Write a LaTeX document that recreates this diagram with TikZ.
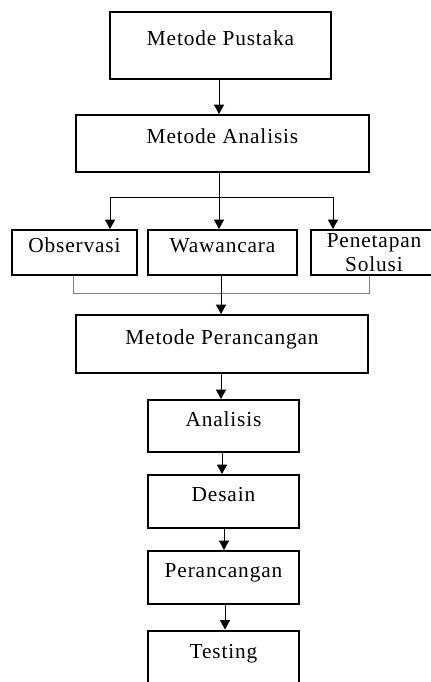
\documentclass[tikz,border=0pt]{standalone}
\usepackage{fontspec}
\setmainfont[LetterSpace=4]{Liberation Serif}
\usetikzlibrary{arrows.meta}
\tikzset{
  procbox/.style={draw, line width=1.5pt, align=center, inner sep=0pt, font=\fontsize{16}{19}\selectfont, text height=11pt, text depth=11pt},
  twoline/.style={draw, line width=1.5pt, align=center, inner sep=0pt, font=\fontsize{16}{17.5}\selectfont},
  flow/.style={line width=0.75pt, -{Triangle[length=7pt,width=7.5pt]}},
  joinline/.style={line width=0.75pt, draw=gray}
}

\begin{document}
\begin{tikzpicture}[x=0.75pt,y=0.75pt,yscale=-1,xscale=1]
\useasboundingbox (0,0) rectangle (430,682);

% Text Node
\node [procbox, minimum width=165.75pt, minimum height=50.25pt] (pustaka) at (220.5,45.5) {Metode Pustaka};
% Text Node
\node [procbox, minimum width=219.75pt, minimum height=42.75pt] (manalisis) at (222.5,143.5) {Metode Analisis};
% Text Node
\node [procbox, minimum width=93.75pt, minimum height=33.75pt] (observasi) at (74.5,252.5) {Observasi};
% Text Node
\node [procbox, minimum width=111.75pt, minimum height=33.75pt] (wawancara) at (222.5,252.5) {Wawancara};
% Text Node
\node [twoline, minimum width=94.5pt, minimum height=33.75pt] (penetapan) at (374,252.5) {Penetapan\\Solusi};
% Text Node
\node [procbox, minimum width=219pt, minimum height=43.5pt] (mperancangan) at (222,344) {Metode Perancangan};
% Text Node
\node [procbox, minimum width=113.25pt, minimum height=39pt] (analisis) at (223.5,426) {Analisis};
% Text Node
\node [procbox, minimum width=113.25pt, minimum height=39.75pt] (desain) at (223.5,501.5) {Desain};
% Text Node
\node [procbox, minimum width=113.25pt, minimum height=39.75pt] (perancangan) at (223.5,577.5) {Perancangan};
% Text Node
\node [procbox, minimum width=113.25pt, minimum height=41.25pt] (testing) at (223.5,658) {Testing};

% branch points
\coordinate (split) at (219,197);
\coordinate (splitL) at (110,197);
\coordinate (splitR) at (333,197);
\coordinate (mergeL) at (73,293);
\coordinate (mergeR) at (369,293);

%Straight Lines
\draw [flow] (pustaka.south -| split) -- (split |- manalisis.north);
%Straight Lines
\draw [line width=0.75pt] (split |- manalisis.south) -- (split);
\draw [line width=0.75pt] (splitL) -- (splitR);
\draw [flow] (splitL) -- (splitL |- observasi.north);
\draw [flow] (split) -- (split |- wawancara.north);
\draw [flow] (splitR) -- (splitR |- penetapan.north);
%Straight Lines
\draw [joinline] (mergeL |- observasi.south) -- (mergeL) -- (mergeR) -- (mergeR |- penetapan.south);
\draw [flow] (wawancara.south -| 221,0) -- (mperancangan.north -| 221,0);
%Straight Lines
\draw [flow] (mperancangan.south -| 221,0) -- (analisis.north -| 221,0);
\draw [flow] (analisis.south -| 222,0) -- (desain.north -| 222,0);
\draw [flow] (desain.south -| 224,0) -- (perancangan.north -| 224,0);
\draw [flow] (perancangan.south -| 225,0) -- (testing.north -| 225,0);

\end{tikzpicture}
\end{document}
